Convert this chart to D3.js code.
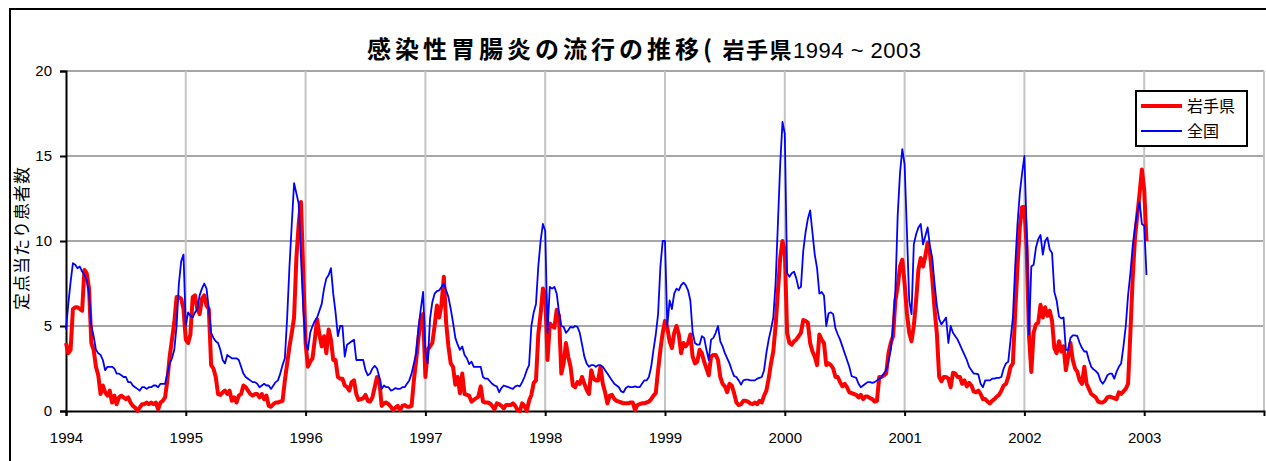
<!DOCTYPE html>
<html>
<head>
<meta charset="utf-8">
<script src="https://cdn.jsdelivr.net/npm/d3@7"></script>
<style>
  body { margin: 0; background: #fff; }
  svg { display: block; }
  .tick text { font-family: "Liberation Sans", Arial, sans-serif; font-size: 15px; fill: #000; }
</style>
</head>
<body>
<svg id="chart" width="1266" height="461"></svg>
<script>
// weekly cases per sentinel site (52 weeks a year)
let years = [1994, 1995, 1996, 1997, 1998, 1999, 2000, 2001, 2002, 2003];

let iwate1994 = [4.0,3.4,3.6,6.0,6.1,6.1,6.0,5.9,8.3,8.1, 7.2,4.0,3.6,2.6,2.1,1.0,1.5,1.1,0.9,1.2,
  0.5,0.9,0.4,0.8,0.9,0.8,0.7,0.8,0.5,0.3, 0.2,0.0,0.2,0.4,0.4,0.5,0.4,0.5,0.4,0.5,
  0.1,0.5,0.6,0.8,1.8,3.2,4.2,5.2,6.7,6.7, 6.6,6.0];
let iwate1995 = [4.2,4.0,4.5,6.7,6.8,6.0,5.7,6.6,6.8,6.2, 6.0,2.7,2.5,2.0,1.0,0.95,1.1,1.2,1.0,1.2,
  0.6,0.8,0.5,0.9,1.0,1.5,1.4,1.2,1.0,0.9, 1.0,1.0,0.8,1.0,0.7,0.9,0.3,0.25,0.4,0.5,
  0.5,0.55,0.6,1.8,2.8,3.8,4.6,5.5,9.0,11.0, 12.3,8.0];
let iwate1996 = [4.0,2.6,2.9,3.1,4.2,5.4,4.5,3.8,4.4,3.4, 4.8,4.2,3.0,3.0,2.0,1.9,1.9,1.5,1.4,1.2,
  1.7,1.8,1.0,0.65,0.7,0.75,0.95,0.6,0.55,0.8, 1.4,2.0,1.8,0.3,0.45,0.5,0.4,0.25,0.05,0.2,
  0.3,0.05,0.3,0.35,0.25,0.25,0.3,1.8,3.0,4.3, 5.4,5.7];
let iwate1997 = [2.0,3.6,3.8,4.0,5.0,6.2,5.5,6.3,7.9,5.2, 3.8,2.8,2.6,1.55,2.0,1.05,2.2,1.0,0.95,0.9,
  0.55,0.65,0.75,0.85,1.45,0.55,0.5,0.5,0.45,0.3, 0.1,0.45,0.4,0.3,0.15,0.35,0.35,0.35,0.45,0.3,
  0.05,0.0,0.45,0.3,0.0,0.6,0.95,1.65,1.8,4.5, 5.7,7.2];
let iwate1998 = [6.9,3.0,5.15,5.0,4.9,5.95,5.6,2.2,2.8,4.0, 3.2,2.6,1.5,1.4,1.7,1.6,2.0,1.6,1.25,1.0,
  2.4,1.9,1.8,1.8,2.6,1.6,1.1,0.45,0.9,0.95, 0.7,0.6,0.55,0.5,0.45,0.45,0.45,0.5,0.5,0.05,
  0.35,0.4,0.45,0.45,0.5,0.55,0.7,0.9,1.05,2.4, 3.6,4.6];
let iwate1999 = [5.3,4.9,4.1,3.7,4.6,5.0,4.5,3.4,4.0,3.8, 4.0,4.5,3.2,2.8,2.9,3.6,3.4,2.9,2.5,2.1,
  3.2,3.3,3.3,3.0,2.0,1.6,1.45,1.1,1.6,1.5, 1.05,0.5,0.35,0.4,0.6,0.6,0.55,0.45,0.4,0.5,
  0.4,0.6,0.5,0.9,1.2,1.9,2.8,3.5,5.0,7.0, 9.0,10.0];
let iwate2000 = [9.4,4.6,4.0,3.9,4.1,4.2,4.4,4.6,5.35,5.3, 5.2,4.0,3.5,3.2,2.7,4.5,4.2,4.0,2.7,2.8,
  2.7,2.5,2.0,2.0,1.7,1.45,1.6,1.4,1.1,1.05, 1.0,0.95,0.8,0.95,0.7,0.85,0.85,0.75,0.7,0.55,
  0.6,2.0,2.0,2.1,2.2,3.4,4.0,4.4,6.5,7.3, 8.5,8.9];
let iwate2001 = [7.5,5.75,4.6,4.1,5.0,6.5,8.3,9.0,8.5,9.1, 9.9,9.3,7.8,6.0,4.55,2.0,1.75,2.0,2.0,1.9,
  1.4,2.25,2.2,2.0,2.0,1.6,1.8,1.45,1.65,1.5, 1.15,1.1,1.2,1.0,0.7,0.7,0.55,0.45,0.6,0.7,
  0.85,0.95,1.2,1.5,1.6,2.0,2.6,2.8,5.75,8.5, 10.8,12.0];
let iwate2002 = [12.0,9.5,4.4,2.3,4.6,5.1,5.2,6.25,5.5,6.1, 5.6,5.9,5.3,3.7,3.4,4.1,3.5,3.8,2.4,3.2,
  4.0,3.0,2.5,2.3,1.8,1.6,2.6,1.6,1.3,1.0, 0.9,0.8,0.55,0.5,0.5,0.6,0.8,0.85,0.8,0.75,
  0.7,1.1,1.0,1.15,1.3,1.6,4.6,7.8,10.2,11.5, 12.8,14.2];
let iwate2003 = [13.0,10.0];

let national1994 = [4.8,6.3,7.6,8.7,8.6,8.4,8.5,8.2,8.0,7.7, 6.9,5.0,4.4,3.6,3.4,3.3,3.0,2.4,2.6,2.6,
  2.6,2.5,2.2,2.2,2.1,2.0,2.0,1.7,1.7,1.5, 1.4,1.3,1.2,1.4,1.4,1.3,1.4,1.4,1.5,1.5,
  1.4,1.6,1.6,1.6,2.2,2.8,3.1,3.6,5.0,7.5, 8.8,9.2];
let national1995 = [5.0,5.8,5.6,5.5,5.8,6.0,6.8,7.2,7.5,7.2, 6.0,4.6,4.3,4.1,4.0,3.6,3.0,2.8,3.3,3.2,
  3.1,3.1,3.1,3.0,2.6,2.2,2.0,1.9,1.8,1.7, 1.7,1.6,1.4,1.5,1.6,1.5,1.5,1.3,1.5,1.7,
  1.8,2.2,2.7,3.1,5.5,8.5,11.0,13.4,12.8,12.2, 9.0,6.0];
let national1996 = [4.0,3.6,4.6,5.0,5.3,5.5,5.9,6.3,7.2,7.8, 8.0,8.4,6.9,5.8,4.4,5.0,5.0,3.2,3.9,4.0,
  4.1,4.2,3.0,3.0,3.0,3.0,2.4,2.1,2.2,2.5, 2.65,2.5,2.0,1.3,1.5,1.4,1.4,1.2,1.25,1.35,
  1.3,1.3,1.4,1.4,1.6,1.8,2.2,2.8,3.4,4.9, 6.0,7.0];
let national1997 = [3.5,2.8,5.4,6.4,6.9,7.05,7.1,7.3,7.5,7.1, 6.7,6.0,5.2,4.3,3.9,3.6,3.8,3.3,3.1,2.75,
  2.9,2.6,2.6,2.6,2.6,2.0,1.9,1.9,1.75,1.6, 1.5,1.45,1.1,1.35,1.5,1.45,1.4,1.35,1.3,1.45,
  1.5,1.45,1.7,2.0,2.4,2.7,5.0,5.8,6.3,8.5, 10.0,11.0];
let national1998 = [10.6,4.6,7.3,7.2,7.3,6.9,5.8,5.0,4.95,4.6, 4.75,4.95,4.9,5.0,4.95,4.6,3.9,3.2,2.8,2.6,
  2.7,2.7,2.6,2.7,2.7,2.6,2.4,2.2,2.0,1.8, 1.6,1.5,1.4,1.15,1.1,1.35,1.45,1.4,1.4,1.45,
  1.4,1.4,1.6,1.8,1.8,2.0,2.6,3.6,4.5,5.7, 8.5,10.0];
let national1999 = [10.0,5.0,6.5,6.0,6.9,7.2,7.1,7.4,7.55,7.4, 7.1,6.5,4.6,4.0,3.9,3.9,4.4,4.3,3.6,3.0,
  4.2,4.3,4.6,5.0,4.1,3.8,3.4,3.1,2.8,2.4, 2.05,2.0,1.8,1.55,1.8,1.85,1.85,1.8,1.8,1.8,
  1.9,1.95,2.0,2.4,3.4,4.2,4.8,5.5,7.5,11.0, 14.5,17.0];
let national2000 = [16.3,8.1,7.9,8.1,8.2,7.8,7.2,7.3,9.4,10.5, 11.3,11.8,10.5,9.2,8.4,6.9,7.0,6.8,5.0,5.75,
  5.8,5.7,4.85,4.5,4.2,3.8,3.4,3.0,2.6,2.05, 2.0,1.95,1.6,1.4,1.5,1.6,1.7,1.7,1.65,1.7,
  1.8,1.9,2.0,2.2,2.4,2.9,3.6,5.0,7.1,11.5, 14.0,15.4];
let national2001 = [14.5,10.6,6.5,5.7,9.8,10.4,10.8,11.0,9.8,10.3, 10.8,9.7,9.0,7.5,6.2,5.4,5.1,5.3,5.5,4.0,
  5.0,4.6,4.4,4.2,3.9,3.6,3.3,3.0,2.6,2.4, 2.2,2.2,2.15,1.6,1.4,1.8,1.8,1.8,1.9,1.9,
  1.95,1.95,2.0,2.5,2.8,2.9,4.2,5.5,8.5,11.0, 12.8,14.0];
let national2002 = [15.0,10.5,4.5,8.5,8.6,9.6,10.1,10.35,9.2,10.0, 10.2,9.5,9.3,7.0,6.5,5.55,5.45,5.5,3.6,3.6,
  4.3,4.45,4.45,4.4,4.0,3.7,3.5,3.5,3.0,2.6, 2.45,2.35,2.2,1.8,1.6,1.8,2.1,2.2,2.2,1.9,
  2.3,2.6,2.8,3.8,5.0,6.8,8.1,9.7,10.8,11.7, 12.3,11.0];
let national2003 = [10.9,8.0];

let iwateByYear = [iwate1994, iwate1995, iwate1996, iwate1997, iwate1998,
  iwate1999, iwate2000, iwate2001, iwate2002, iwate2003];
let nationalByYear = [national1994, national1995, national1996, national1997, national1998,
  national1999, national2000, national2001, national2002, national2003];

let yTicks = [0, 5, 10, 15, 20];
let titleMain = '感染性胃腸炎の流行の推移(';
let titlePref = ' 岩手県';
let titleYears = '1994 ~ 2003';
let yLabel = '定点当たり患者数';
let seriesNames = ['岩手県', '全国'];

// flatten year arrays into {t, v} points, t = year + week/52
function toPoints(byYear) {
  let pts = [];
  byYear.forEach((arr, i) => {
    arr.forEach((v, w) => pts.push({ t: years[i] + w / 52, v: v }));
  });
  return pts;
}

let svg = d3.select('#chart');

// outer frame (cut off on the right and bottom like the original)
svg.append('rect')
  .attr('x', 10).attr('y', 9)
  .attr('width', 1400).attr('height', 600)
  .attr('fill', 'none')
  .attr('stroke', '#000')
  .attr('stroke-width', 2);

let x = d3.scaleLinear().domain([1994, 2004]).range([66, 1264]);
let y = d3.scaleLinear().domain([0, 20]).range([411, 71]);

// grid
svg.append('g').selectAll('line')
  .data(yTicks.filter(d => d > 0))
  .join('line')
  .attr('x1', x(1994)).attr('x2', x(2004))
  .attr('y1', d => y(d)).attr('y2', d => y(d))
  .attr('stroke', '#a6a6a6')
  .attr('stroke-width', 2);

svg.append('g').selectAll('line')
  .data(years.slice(1).concat([2004]))
  .join('line')
  .attr('x1', d => x(d)).attr('x2', d => x(d))
  .attr('y1', y(20)).attr('y2', y(0))
  .attr('stroke', '#c4c4c4')
  .attr('stroke-width', 2);

// axes
let yAxis = d3.axisLeft(y).tickValues(yTicks).tickSize(6).tickPadding(8);
let gy = svg.append('g').attr('transform', `translate(${x(1994)},0)`).call(yAxis);

let xAxis = d3.axisBottom(x).tickValues(years).tickFormat(d3.format('d')).tickSize(5).tickPadding(16);
let gx = svg.append('g').attr('transform', `translate(0,${y(0)})`).call(xAxis);

[gx, gy].forEach(g => {
  g.select('.domain').attr('stroke', '#000').attr('stroke-width', 2);
  g.selectAll('.tick line').attr('stroke', '#000').attr('stroke-width', 2);
});

// series
let lineFn = d3.line()
  .x(d => x(d.t))
  .y(d => y(d.v));

svg.append('path')
  .datum(toPoints(iwateByYear))
  .attr('fill', 'none')
  .attr('stroke', '#ff0000')
  .attr('stroke-width', 4)
  .attr('stroke-linejoin', 'round')
  .attr('d', lineFn);

svg.append('path')
  .datum(toPoints(nationalByYear))
  .attr('fill', 'none')
  .attr('stroke', '#0000ff')
  .attr('stroke-width', 1.8)
  .attr('stroke-linejoin', 'round')
  .attr('d', lineFn);

// y label
svg.append('text')
  .attr('transform', 'translate(28,238)rotate(-90)')
  .attr('text-anchor', 'middle')
  .style('font-family', '"Noto Sans CJK JP", sans-serif')
  .style('font-size', '17px')
  .style('letter-spacing', '1px')
  .text(yLabel);

// title
let title = svg.append('text')
  .attr('x', 367).attr('y', 58)
  .style('font-family', '"Noto Sans CJK JP", sans-serif');
title.append('tspan')
  .style('font-size', '24px').style('font-weight', 'bold').style('letter-spacing', '4px')
  .text(titleMain);
title.append('tspan')
  .style('font-size', '22px').style('font-weight', 'bold').style('letter-spacing', '1.5px')
  .text(titlePref);
title.append('tspan')
  .style('font-family', '"Liberation Sans", Arial, sans-serif')
  .style('font-size', '22px').style('letter-spacing', '0.5px')
  .text(titleYears);

// legend
let legend = svg.append('g');
legend.append('rect')
  .attr('x', 1136).attr('y', 91)
  .attr('width', 111).attr('height', 55)
  .attr('fill', '#fff')
  .attr('stroke', '#000')
  .attr('stroke-width', 2);

let legendRows = [
  { name: seriesNames[0], color: '#ff0000', width: 4, y: 106 },
  { name: seriesNames[1], color: '#0000ff', width: 1.8, y: 131 }
];
legend.selectAll('line')
  .data(legendRows)
  .join('line')
  .attr('x1', 1141).attr('x2', 1182)
  .attr('y1', d => d.y).attr('y2', d => d.y)
  .attr('stroke', d => d.color)
  .attr('stroke-width', d => d.width);
legend.selectAll('text')
  .data(legendRows)
  .join('text')
  .attr('x', 1187).attr('y', d => d.y + 6)
  .style('font-family', '"Noto Sans CJK JP", sans-serif')
  .style('font-size', '16px')
  .text(d => d.name);
</script>
</body>
</html>
